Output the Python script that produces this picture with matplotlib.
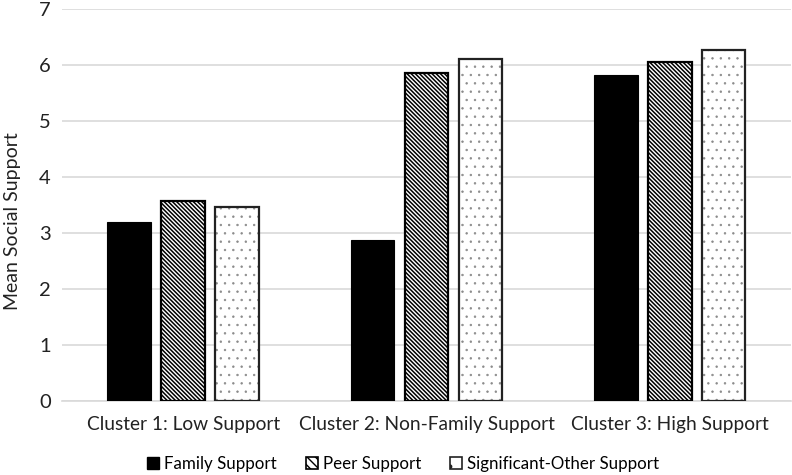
import numpy as np
import matplotlib as mpl
import matplotlib.pyplot as plt
from matplotlib.patches import Patch

clusters = ['Cluster 1: Low Support', 'Cluster 2: Non-Family Support', 'Cluster 3: High Support']
family = [3.20, 2.87, 5.82]
peer = [3.57, 5.85, 6.06]
sig_other = [3.46, 6.11, 6.27]
series_names = ['Family Support', 'Peer Support', 'Significant-Other Support']

plt.rcParams['font.family'] = ['Lato', 'DejaVu Sans']


def hatch_lw(bars, lw):
    for p in bars:
        if hasattr(p, 'set_hatch_linewidth'):
            p.set_hatch_linewidth(lw)


fig = plt.figure(figsize=(7.92, 4.75), dpi=100)
ax = fig.add_axes([0.078, 0.156, 0.921, 0.825])

x = np.arange(len(clusters))
w = 0.18
step = 0.222

# family: solid black
ax.bar(x - step, family, w, color='black', edgecolor='black', linewidth=0.8, zorder=3)
# peer: dense diagonal hatch
with mpl.rc_context({'hatch.linewidth': 1.1}):
    b2 = ax.bar(x, peer, w, color='white', edgecolor='black', hatch='\\' * 8, linewidth=1.6, zorder=3)
hatch_lw(b2, 1.1)
# significant other: sparse grey dots, then dark outline on top
with mpl.rc_context({'hatch.linewidth': 0.5}):
    b3 = ax.bar(x + step, sig_other, w, color='white', edgecolor='#8a8a8a', hatch='..', linewidth=0, zorder=3)
hatch_lw(b3, 0.5)
ax.bar(x + step, sig_other, w, color='none', edgecolor='#222222', linewidth=1.6, zorder=4)

ax.set_xlim(-0.5, 2.5)
ax.set_ylim(0, 7)
ax.set_yticks(range(0, 8))
ax.set_xticks(x)
ax.set_xticklabels(clusters, fontsize=13.8, color='#222222')
ax.tick_params(axis='y', labelsize=14.5, colors='#222222', length=0, pad=8)
ax.tick_params(axis='x', length=0, pad=11)
ax.yaxis.grid(True, color='#d9d9d9', linewidth=1.2, zorder=0)
ax.set_axisbelow(True)
for s in ['top', 'right', 'left']:
    ax.spines[s].set_visible(False)
ax.spines['bottom'].set_color('#d9d9d9')
ax.spines['bottom'].set_linewidth(1.2)

ax.set_ylabel('Mean Social Support', fontsize=14, color='#222222', va='center')
ax.yaxis.set_label_coords(-0.068, 0.46)

with mpl.rc_context({'hatch.linewidth': 1.0}):
    handles = [
        Patch(facecolor='black', edgecolor='black'),
        Patch(facecolor='white', edgecolor='black', hatch='\\\\\\\\', linewidth=1.2),
        Patch(facecolor='white', edgecolor='#222222', hatch='.', linewidth=1.2),
    ]
fig.legend(handles, series_names, loc='lower center', bbox_to_anchor=(0.509, -0.025), ncol=3,
           frameon=False, fontsize=12.2, handlelength=0.7, handleheight=0.7, handletextpad=0.3,
           columnspacing=1.7)

fig.savefig('out.png', dpi=100)
